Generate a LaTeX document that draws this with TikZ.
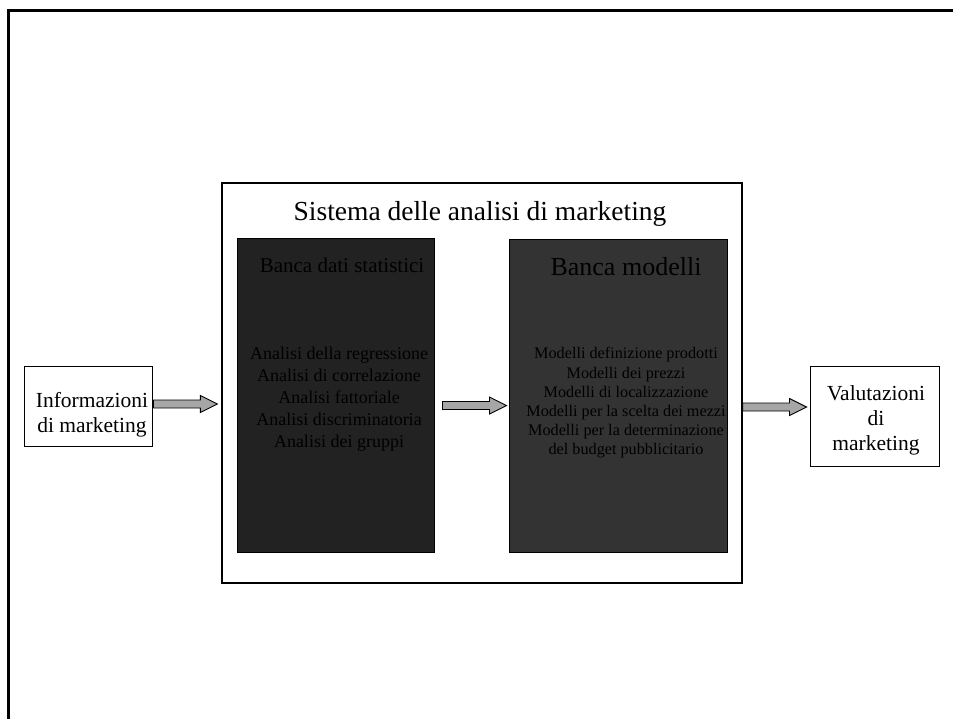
\documentclass[tikz,border=0pt]{standalone}
\usepackage{fontspec}
\setmainfont{Liberation Serif}
\usetikzlibrary{calc}
\definecolor{darkA}{HTML}{222222}
\definecolor{darkB}{HTML}{333333}
\definecolor{arrowgray}{HTML}{A6A6A6}
\tikzset{
  plainbox/.style={draw=black, line width=1pt, fill=white, inner sep=0pt, align=center},
  darkbox/.style={draw=black, line width=1pt, inner sep=0pt},
  bigarrow/.style={draw=black, line width=0.9pt, fill=arrowgray, line join=miter},
  sidetext/.style={font=\fontsize{21.5}{25}\selectfont, align=center, inner sep=0pt},
}
\newcommand{\blockarrowdraw}[2]{%
  \draw[bigarrow] let \p1=(#1), \p2=(#2) in
    (\x1,\y1+4pt) -- (\x2-17pt,\y1+4pt) -- (\x2-17pt,\y1+8.5pt) -- (\x2,\y1)
    -- (\x2-17pt,\y1-8.5pt) -- (\x2-17pt,\y1-4pt) -- (\x1,\y1-4pt) -- cycle;}
\begin{document}
\begin{tikzpicture}[x=1pt,y=-1pt]
\useasboundingbox (0,0) rectangle (953,718);
\clip (0,0) rectangle (953,718);
\fill[white] (0,0) rectangle (953,718);
% outer frame
\draw[line width=3pt] (8.5,740) -- (8.5,10) -- (970,10);

% side boxes
\node[plainbox, minimum width=128pt, minimum height=80pt] (inf) at (88,406) {};
\node[sidetext] (inft) at (92,415) {Informazioni\\di marketing};
\node[plainbox, minimum width=129pt, minimum height=100pt] (val) at (874.5,416) {};
\node[sidetext] (valt) at (876,420) {Valutazioni\\di\\marketing};

% system box
\node[draw=black, line width=1.2pt, fill=white, minimum width=520pt, minimum height=400pt, inner sep=0pt] (sys) at (482,383) {};
\node[font=\fontsize{27.5}{32}\selectfont, inner sep=0pt] (syst) at (480,214) {Sistema delle analisi di marketing};

% dark boxes
\node[darkbox, fill=darkA, minimum width=197pt, minimum height=314pt] (b1) at (335.5,395) {};
\node[darkbox, fill=darkB, minimum width=218pt, minimum height=313pt] (b2) at (618,395.5) {};

\node[font=\fontsize{21}{25}\selectfont, inner sep=0pt] (b1t) at (342,265) {Banca dati statistici};
\node[font=\fontsize{18}{22}\selectfont, align=center, inner sep=0pt] (b1l) at (339,399)
  {Analisi della regressione\\Analisi di correlazione\\Analisi fattoriale\\Analisi discriminatoria\\Analisi dei gruppi};

\node[font=\fontsize{26}{30}\selectfont, inner sep=0pt] (b2t) at (626,267) {Banca modelli};
\node[font=\fontsize{16.2}{19.2}\selectfont, align=center, inner sep=0pt] (b2l) at (626,403)
  {Modelli definizione prodotti\\Modelli dei prezzi\\Modelli di localizzazione\\Modelli per la scelta dei mezzi\\Modelli per la determinazione\\del budget pubblicitario};

% arrow coordinates
\coordinate (a1s) at ($(inf.east)+(1,-2)$);
\coordinate (a1e) at ($(sys.west)+(-4,21)$);
\coordinate (a2s) at ($(b1.east)+(8,10.5)$);
\coordinate (a2e) at ($(b2.west)+(-2,10)$);
\coordinate (a3s) at ($(sys.east)+(0,24)$);
\coordinate (a3e) at ($(val.west)+(-3,-9)$);

\blockarrowdraw{a1s}{a1e}
\blockarrowdraw{a2s}{a2e}
\blockarrowdraw{a3s}{a3e}
\end{tikzpicture}
\end{document}
